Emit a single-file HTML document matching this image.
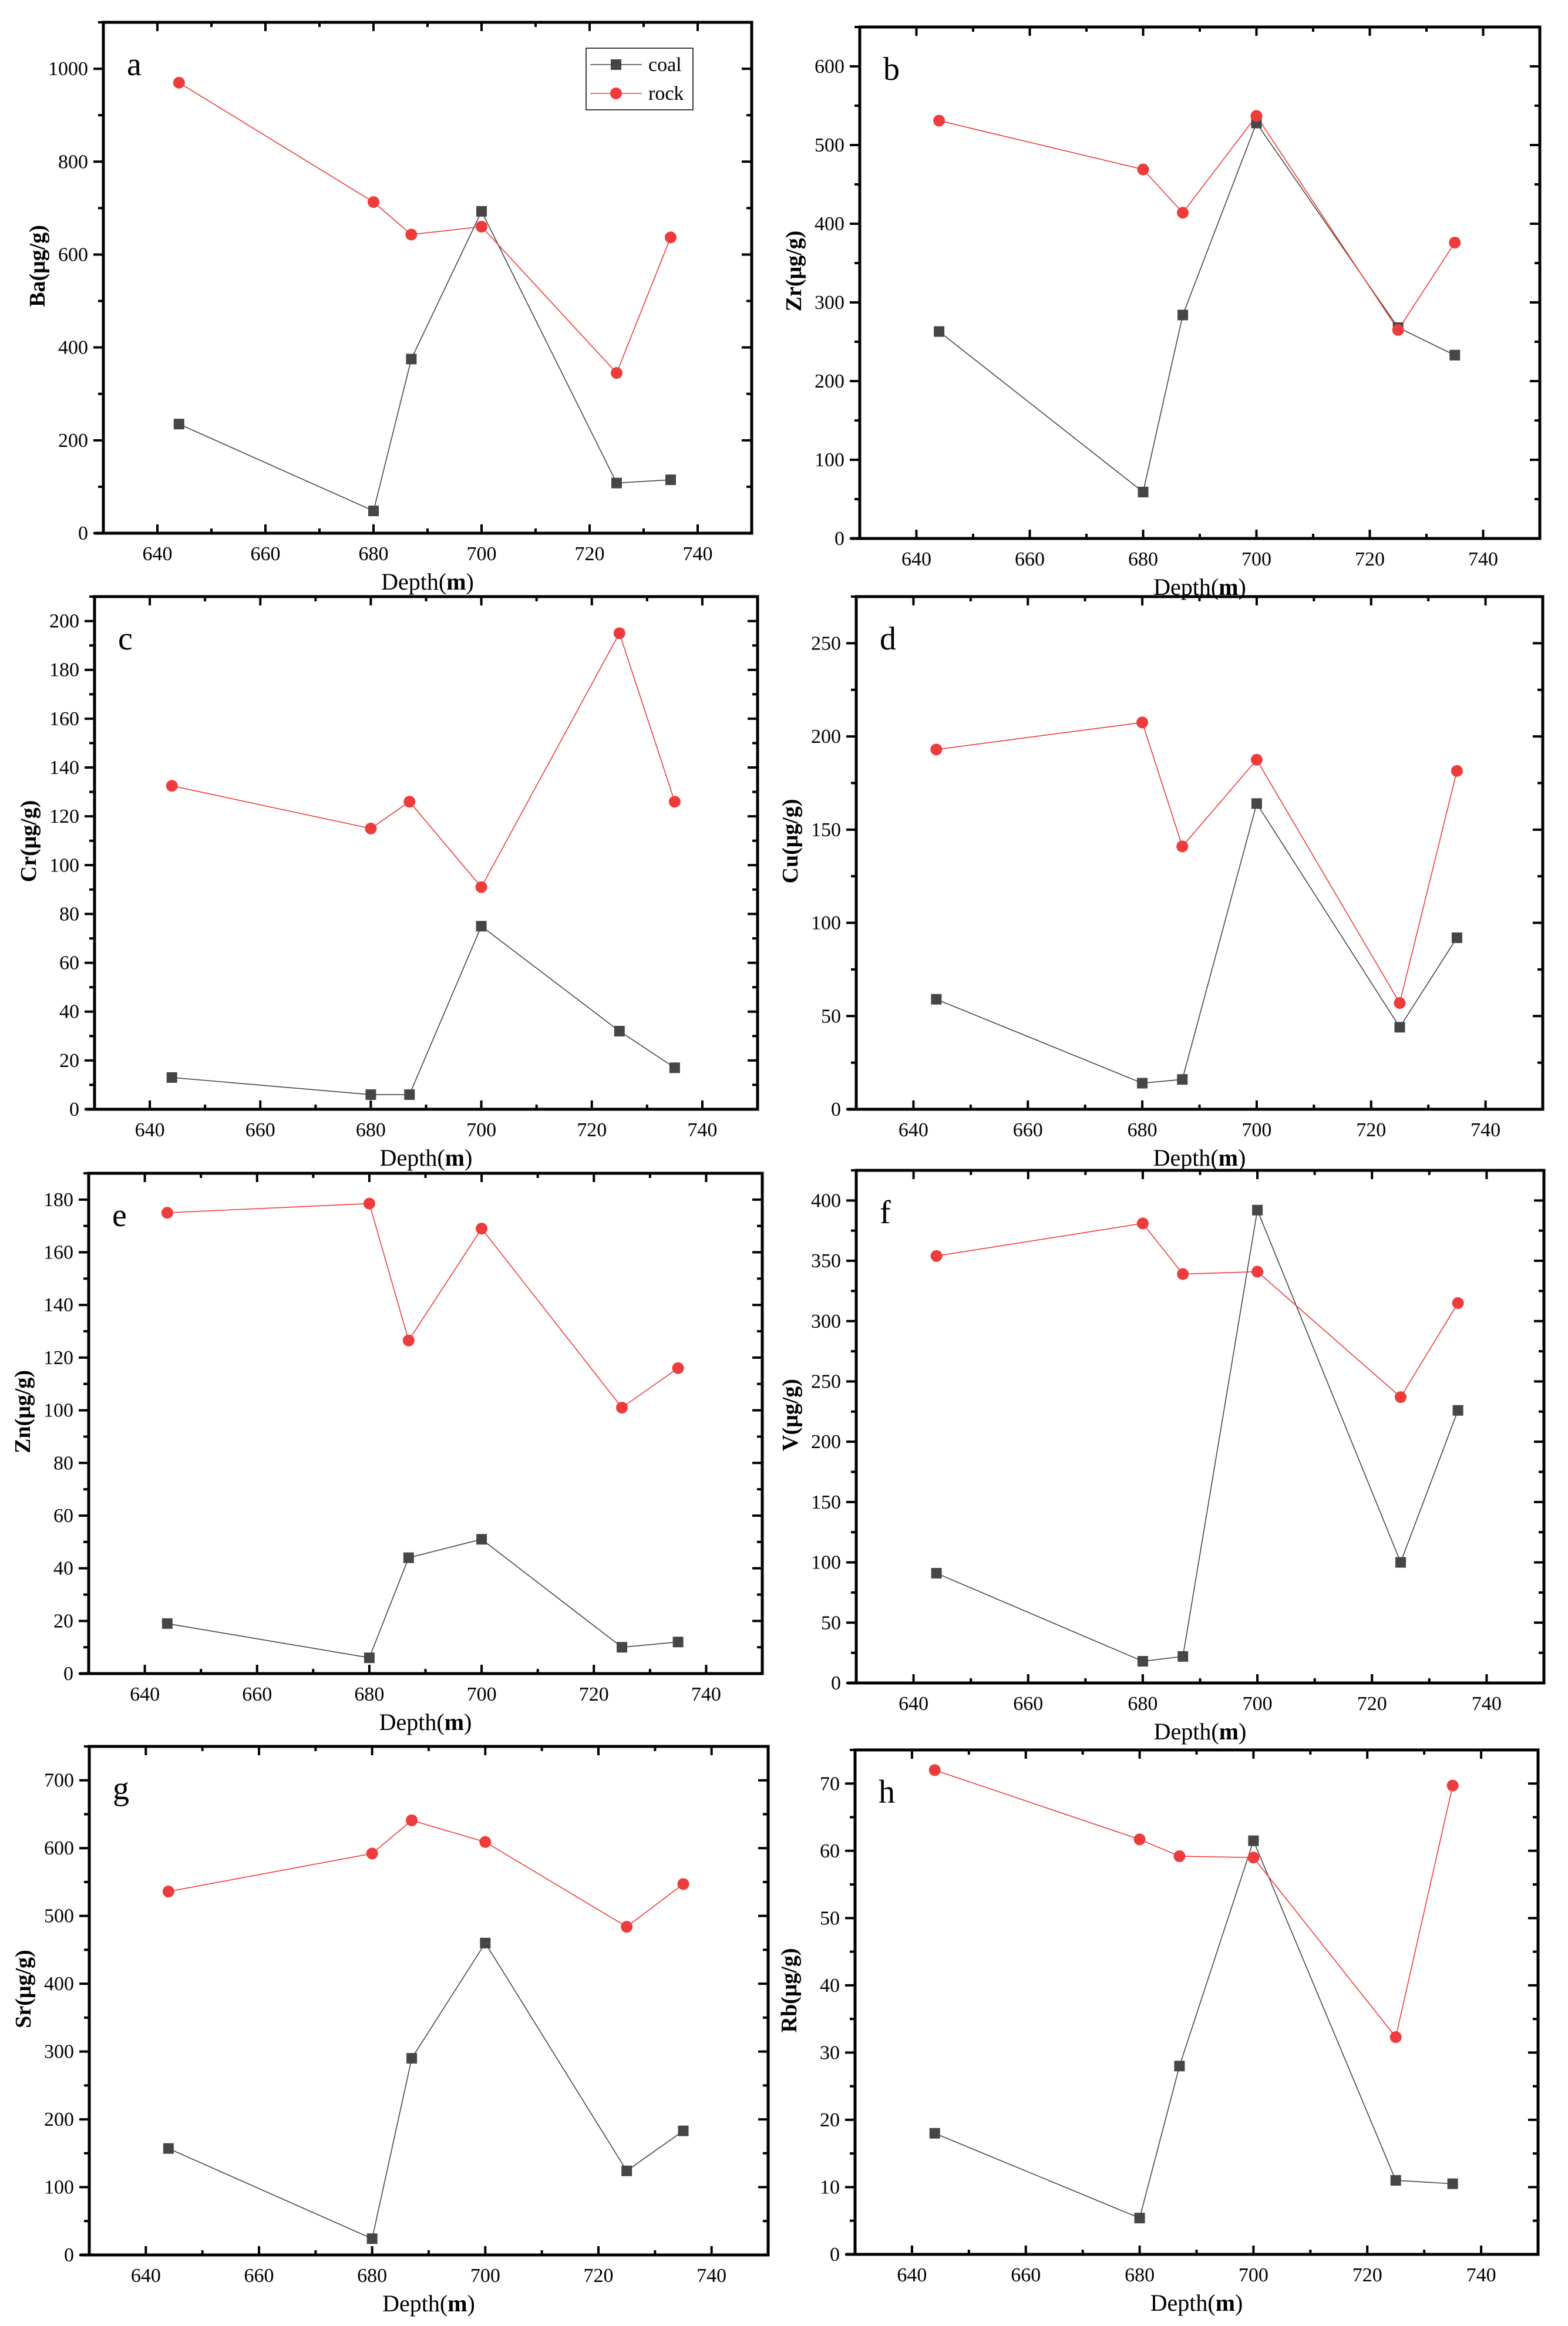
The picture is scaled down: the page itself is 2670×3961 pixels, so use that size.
<!DOCTYPE html>
<html><head><meta charset="utf-8"><style>
html,body{margin:0;padding:0;background:#fff;}
svg{display:block;}
text{font-family:"Liberation Serif",serif;}
</style></head><body>
<svg id="chart" width="2670" height="3961" viewBox="0 0 2670 3961" xmlns="http://www.w3.org/2000/svg">
<rect x="0" y="0" width="2670" height="3961" fill="#fff"/>
</svg>
<script>
const depths = [644, 680, 687, 700, 725, 735];
const xTicks = [640, 660, 680, 700, 720, 740];
const coalBa = [235, 48, 375, 693, 108, 115];
const rockBa = [970, 713, 643, 660, 345, 637];
const coalZr = [263, 59, 284, 528, 268, 233];
const rockZr = [531, 469, 414, 537, 265, 376];
const coalCr = [13, 6, 6, 75, 32, 17];
const rockCr = [132.5, 115, 126, 91, 195, 126];
const coalCu = [59, 14, 16, 164, 44, 92];
const rockCu = [193, 207.5, 141, 187.5, 57, 181.5];
const coalZn = [19, 6, 44, 51, 10, 12];
const rockZn = [175, 178.5, 126.5, 169, 101, 116];
const coalV = [91, 18, 22, 392, 100, 226];
const rockV = [354, 381, 339, 341, 237, 315];
const coalSr = [157, 24, 290, 460, 124, 183];
const rockSr = [536, 592, 641, 609, 484, 547];
const coalRb = [18, 5.4, 28, 61.5, 11, 10.5];
const rockRb = [72, 61.7, 59.2, 59, 32.3, 69.7];
const ticksBa = [0, 200, 400, 600, 800, 1000];
const ticksZr = [0, 100, 200, 300, 400, 500, 600];
const ticksCr = [0, 20, 40, 60, 80, 100, 120, 140, 160, 180, 200];
const ticksCu = [0, 50, 100, 150, 200, 250];
const ticksZn = [0, 20, 40, 60, 80, 100, 120, 140, 160, 180];
const ticksV = [0, 50, 100, 150, 200, 250, 300, 350, 400];
const ticksSr = [0, 100, 200, 300, 400, 500, 600, 700];
const ticksRb = [0, 10, 20, 30, 40, 50, 60, 70];

const NS = "http://www.w3.org/2000/svg";
const svg = document.getElementById('chart');
function mk(tag, attrs, parent) {
  const e = document.createElementNS(NS, tag);
  for (const k in attrs) e.setAttribute(k, attrs[k]);
  (parent || svg).appendChild(e);
  return e;
}
const panels = [
  {id:'a', el:'Ba', L:176, R:1280, T:38, B:908, ymax:1100, ticks:ticksBa, minor:100, coal:coalBa, rock:rockBa, legend:true},
  {id:'b', el:'Zr', L:1464, R:2622, T:46, B:917, ymax:650, ticks:ticksZr, minor:50, coal:coalZr, rock:rockZr},
  {id:'c', el:'Cr', L:161, R:1290, T:1016, B:1889, ymax:210, ticks:ticksCr, minor:10, coal:coalCr, rock:rockCr},
  {id:'d', el:'Cu', L:1458, R:2627, T:1016, B:1889, ymax:275, ticks:ticksCu, minor:25, coal:coalCu, rock:rockCu},
  {id:'e', el:'Zn', L:151, R:1298, T:1998, B:2850, ymax:190, ticks:ticksZn, minor:10, coal:coalZn, rock:rockZn},
  {id:'f', el:'V', L:1458, R:2629, T:1993, B:2866, ymax:425, ticks:ticksV, minor:25, coal:coalV, rock:rockV},
  {id:'g', el:'Sr', L:152, R:1308, T:2974, B:3840, ymax:750, ticks:ticksSr, minor:50, coal:coalSr, rock:rockSr},
  {id:'h', el:'Rb', L:1456, R:2619, T:2980, B:3839, ymax:75, ticks:ticksRb, minor:5, coal:coalRb, rock:rockRb}
];
const COAL = '#464646', ROCK = '#ee3b3b';
panels.forEach(p => {
  const g = mk('g', {});
  
  
  const xs = v => p.L + (v - 630) / 120 * (p.R - p.L);
  const ys = v => p.B - v / p.ymax * (p.B - p.T);
  // minor y ticks
  for (let v = 0; v <= p.ymax + 1e-9; v += p.minor) {
    const y = ys(v);
    const major = p.ticks.indexOf(Math.round(v * 1000) / 1000) >= 0;
    const len = major ? 17 : 9;
    const t1 = mk('line', {x1:p.L - len, x2:p.L, y1:y, y2:y, stroke:'#000', 'stroke-width':4}, g);
    
    
    const t2 = mk('line', {x1:p.R, x2:p.R - len, y1:y, y2:y, stroke:'#000', 'stroke-width':4}, g);
    
    
  }
  p.ticks.forEach(v => {
    const t = mk('text', {x:p.L - 26, y:ys(v) + 11, 'font-size':34, 'text-anchor':'end'}, g);
    
    
    t.textContent = v;
  });
  for (let v = 640; v <= 750; v += 10) {
    const x = xs(v);
    const major = v % 20 === 0;
    const len = major ? 15 : 8;
    const t1 = mk('line', {x1:x, x2:x, y1:p.B, y2:p.B - len, stroke:'#000', 'stroke-width':4}, g);
    
    
    const t2 = mk('line', {x1:x, x2:x, y1:p.T, y2:p.T + len, stroke:'#000', 'stroke-width':4}, g);
    
    
  }
  xTicks.forEach(v => {
    const t = mk('text', {x:xs(v), y:p.B + 46, 'font-size':34, 'text-anchor':'middle'}, g);
    
    
    t.textContent = v;
  });
  const frame = mk('rect', {x:p.L, y:p.T, width:p.R - p.L, height:p.B - p.T, fill:'none', stroke:'#000', 'stroke-width':5}, g);
  
  
  const xa = mk('line', {x1:p.L - 15, x2:p.L, y1:p.B, y2:p.B, stroke:'#000', 'stroke-width':5}, g);
  
  
  // titles
  const cx = (p.L + p.R) / 2;
  const xt = mk('text', {x:cx, y:p.B + 96, 'font-size':40, 'text-anchor':'middle'}, g);
  
  
  xt.innerHTML = 'Depth(<tspan font-weight="bold">m</tspan>)';
  const cy = (p.T + p.B) / 2 - 20;
  const yx = p.L - 100;
  const yt = mk('text', {x:yx, y:cy, 'font-size':38, 'font-weight':'bold', 'text-anchor':'middle', transform:'rotate(-90 ' + yx + ' ' + cy + ')'}, g);
  
  
  yt.textContent = p.el + '(μg/g)';
  const lbl = mk('text', {x:p.L + 40, y:p.T + 90, 'font-size':56}, g);
  
  
  lbl.textContent = p.id;
  // series
  const cl = mk('polyline', {points:depths.map((d,i) => xs(d) + ',' + ys(p.coal[i])).join(' '), fill:'none', stroke:COAL, 'stroke-width':1.6}, g);
  
  
  const rl = mk('polyline', {points:depths.map((d,i) => xs(d) + ',' + ys(p.rock[i])).join(' '), fill:'none', stroke:ROCK, 'stroke-width':1.6}, g);
  
  
  depths.forEach((d, i) => {
    const s = mk('rect', {x:xs(d) - 9, y:ys(p.coal[i]) - 9, width:18, height:18, fill:COAL}, g);
    
    
  });
  depths.forEach((d, i) => {
    const c = mk('ellipse', {cx:xs(d), cy:ys(p.rock[i]), rx:10, ry:10, fill:ROCK}, g);
    
    
  });
  if (p.legend) {
    const lg = mk('g', {}, g);
    
    
    mk('rect', {x:998, y:82, width:182, height:105, fill:'#fff', stroke:'#000', 'stroke-width':1.5}, lg);
    const e1 = mk('g', {}, lg);
    
    
    mk('line', {x1:1005, x2:1093, y1:110, y2:110, stroke:COAL, 'stroke-width':1.6}, e1);
    mk('rect', {x:1040, y:101, width:18, height:18, fill:COAL}, e1);
    const t1 = mk('text', {x:1104, y:121, 'font-size':34}, e1);
    t1.textContent = 'coal';
    const e2 = mk('g', {}, lg);
    
    
    mk('line', {x1:1005, x2:1093, y1:159, y2:159, stroke:ROCK, 'stroke-width':1.6}, e2);
    mk('ellipse', {cx:1049, cy:159, rx:10, ry:10, fill:ROCK}, e2);
    const t2 = mk('text', {x:1104, y:170, 'font-size':34}, e2);
    t2.textContent = 'rock';
  }
});
</script>
</body></html>
